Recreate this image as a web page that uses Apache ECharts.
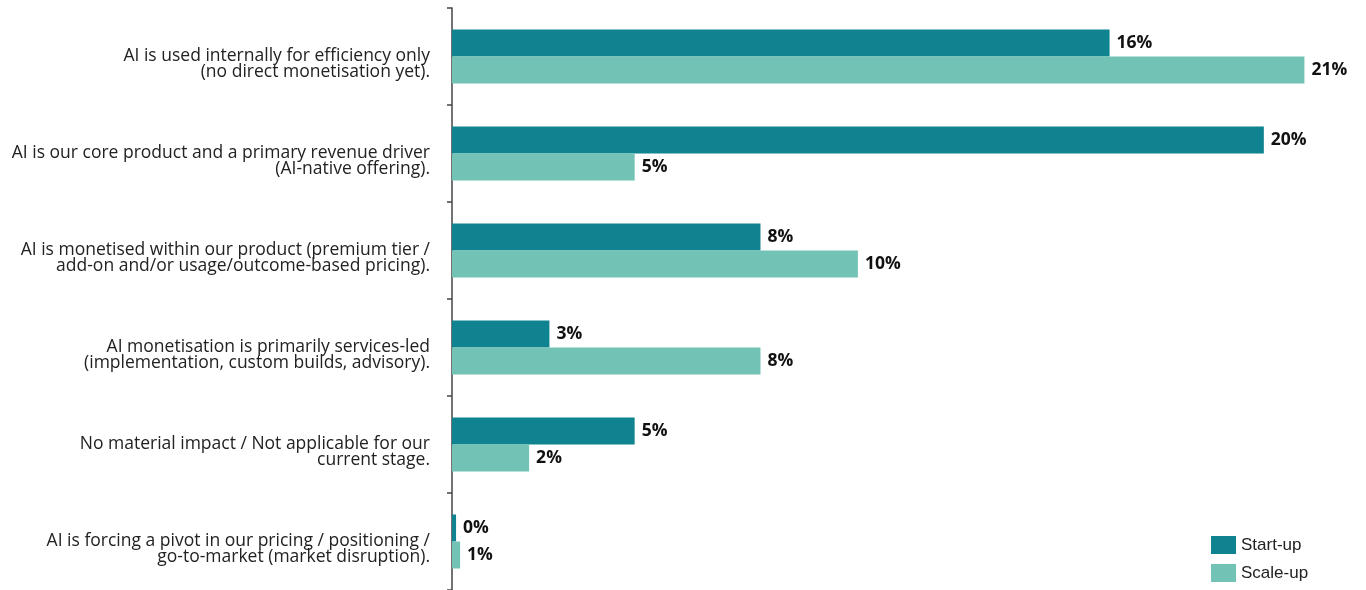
<!DOCTYPE html>
<html>
<head>
<meta charset="utf-8">
<script src="https://cdn.jsdelivr.net/npm/echarts@6/dist/echarts.min.js"></script>
<style>
  html, body { margin: 0; padding: 0; background: #fff; }
  #chart { width: 1366px; height: 590px; }
</style>
</head>
<body>
<div id="chart"></div>
<script>
  // categories, top to bottom
  const categories = [
    'AI is used internally for efficiency only\n(no direct monetisation yet).',
    'AI is our core product and a primary revenue driver\n(AI-native offering).',
    'AI is monetised within our product (premium tier /\nadd-on and/or usage/outcome-based pricing).',
    'AI monetisation is primarily services-led\n(implementation, custom builds, advisory).',
    'No material impact / Not applicable for our\ncurrent stage.',
    'AI is forcing a pivot in our pricing / positioning /\ngo-to-market (market disruption).'
  ];
  // bar lengths (percent)
  const startUp = [16.2, 20.0, 7.6, 2.4, 4.5, 0.1];
  const scaleUp = [21.0, 4.5, 10.0, 7.6, 1.9, 0.2];
  // printed labels
  const startUpLabels = ['16%', '20%', '8%', '3%', '5%', '0%'];
  const scaleUpLabels = ['21%', '5%', '10%', '8%', '2%', '1%'];

  const chart = echarts.init(document.getElementById('chart'));

  function valueLabel(texts) {
    return {
      show: true,
      position: 'right',
      distance: 7,
      fontFamily: 'Open Sans',
      fontWeight: 'bold',
      fontSize: 17.5,
      color: '#111',
      formatter: p => texts[p.dataIndex]
    };
  }

  function legendItem(name, top) {
    return {
      orient: 'vertical',
      left: 1211,
      top: top,
      padding: 0,
      itemWidth: 25,
      itemHeight: 18,
      icon: 'rect',
      textStyle: { fontFamily: 'Liberation Sans', fontSize: 17, color: '#222' },
      data: [name]
    };
  }

  chart.setOption({
    animation: false,
    grid: { left: 452, right: 21, top: 8, bottom: 0 },
    legend: [legendItem('Start-up', 536), legendItem('Scale-up', 564)],
    xAxis: {
      type: 'value',
      min: 0,
      max: 22,
      axisLine: { show: false },
      axisTick: { show: false },
      axisLabel: { show: false },
      splitLine: { show: false }
    },
    yAxis: {
      type: 'category',
      inverse: true,
      data: categories,
      axisLine: { show: true, lineStyle: { color: '#444', width: 1.5 } },
      axisTick: { show: true, length: 5, lineStyle: { color: '#444', width: 1.5 } },
      axisLabel: {
        margin: 22,
        fontFamily: 'Open Sans',
        fontSize: 17.5,
        color: '#222',
        align: 'right',
        // empty spacer line on top pushes the two text lines a little below the band centre
        formatter: v => '{s| }\n' + v.split('\n').map(l => '{t|' + l + '}').join('\n'),
        rich: {
          s: { fontSize: 10, lineHeight: 15 },
          t: { fontFamily: 'Open Sans', fontSize: 17.5, lineHeight: 15.5, color: '#222' }
        }
      }
    },
    series: [
      {
        name: 'Start-up',
        type: 'bar',
        data: startUp,
        barWidth: 27,
        barGap: '0%',
        itemStyle: { color: '#0f838f' },
        label: valueLabel(startUpLabels)
      },
      {
        name: 'Scale-up',
        type: 'bar',
        data: scaleUp,
        barWidth: 27,
        itemStyle: { color: '#72c3b5' },
        label: valueLabel(scaleUpLabels)
      }
    ]
  });
</script>
</body>
</html>
